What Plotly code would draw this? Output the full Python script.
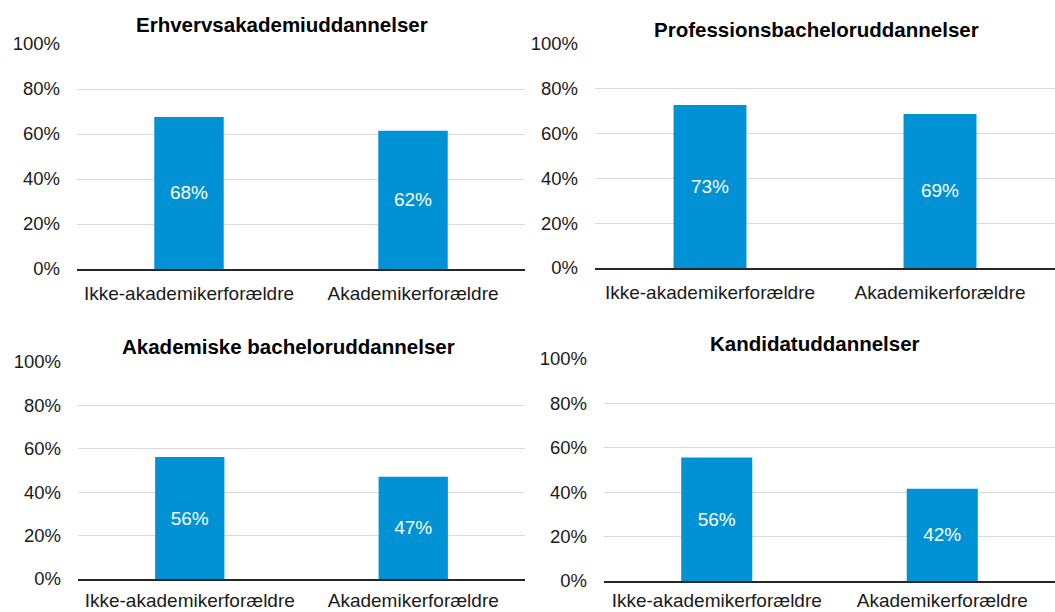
import plotly.graph_objects as go

categories = ["Ikke-akademikerforældre", "Akademikerforældre"]
panel_titles = ["Erhvervsakademiuddannelser", "Professionsbacheloruddannelser",
                "Akademiske bacheloruddannelser", "Kandidatuddannelser"]
erhvervsakademi = [0.676, 0.615]
professionsbachelor = [0.728, 0.688]
akademisk_bachelor = [0.562, 0.471]
kandidat = [0.556, 0.416]
series = [erhvervsakademi, professionsbachelor, akademisk_bachelor, kandidat]
tick_vals = [0, 0.2, 0.4, 0.6, 0.8, 1.0]
tick_text = ["0%", "20%", "40%", "60%", "80%", "100%"]

W, H = 1055, 612
BAR = "#0092D5"
FONT = "Liberation Sans, Arial, sans-serif"
TXT = "#1a1a1a"

# pixel layout: (x0, x1, ytop, ybottom, bar width, title cx, title cy, x label standoff)
panels = [
    (77, 525, 44, 269, 0.31, 282, 25, 6),
    (595, 1055, 44, 268, 0.317, 816, 29, 6),
    (78, 525, 362, 579, 0.31, 288, 346, 3),
    (604, 1055, 359, 581, 0.315, 815, 343, 1),
]

fig = go.Figure()
layout = dict(
    width=W, height=H, margin=dict(l=0, r=0, t=0, b=0, autoexpand=False),
    paper_bgcolor="white", plot_bgcolor="white", showlegend=False,
    font=dict(family=FONT, size=19, color=TXT), annotations=[],
)
for i, (vals, (x0, x1, yt, yb, bw, tcx, tcy, xso)) in enumerate(zip(series, panels)):
    n = "" if i == 0 else str(i + 1)
    fig.add_trace(go.Bar(
        x=categories, y=vals, width=bw, marker=dict(color=BAR, line=dict(width=0)),
        texttemplate="%{y:.0%}", textposition="inside", insidetextanchor="middle",
        textfont=dict(color="white", size=19, family=FONT), textangle=0,
        xaxis="x" + n, yaxis="y" + n, hoverinfo="skip",
    ))
    layout["xaxis" + n] = dict(
        domain=[x0 / W, x1 / W], anchor="y" + n, type="category",
        range=[-0.5, 1.5], showline=True, linecolor="#262626", linewidth=1.5,
        showgrid=False, ticks="", ticklabelstandoff=xso, automargin=False,
        tickfont=dict(family=FONT, size=19, color=TXT),
    )
    layout["yaxis" + n] = dict(
        domain=[1 - yb / H, 1 - yt / H], anchor="x" + n, range=[0, 1],
        tickvals=tick_vals, ticktext=tick_text, showgrid=True,
        gridcolor="#d9d9d9", gridwidth=1, zeroline=False, showline=False,
        ticks="", ticklabelstandoff=16, automargin=False,
        tickfont=dict(family=FONT, size=18.5, color=TXT),
    )
    layout["annotations"].append(dict(
        text="<b>" + panel_titles[i] + "</b>", x=tcx / W, y=1 - tcy / H,
        xref="paper", yref="paper", xanchor="center", yanchor="middle",
        showarrow=False, font=dict(family=FONT, size=20.5, color="black"),
    ))

fig.update_layout(**layout)
fig.write_html("out.html", config={"displayModeBar": False},
               post_script="document.body.style.margin='0';document.body.style.overflow='hidden';")
